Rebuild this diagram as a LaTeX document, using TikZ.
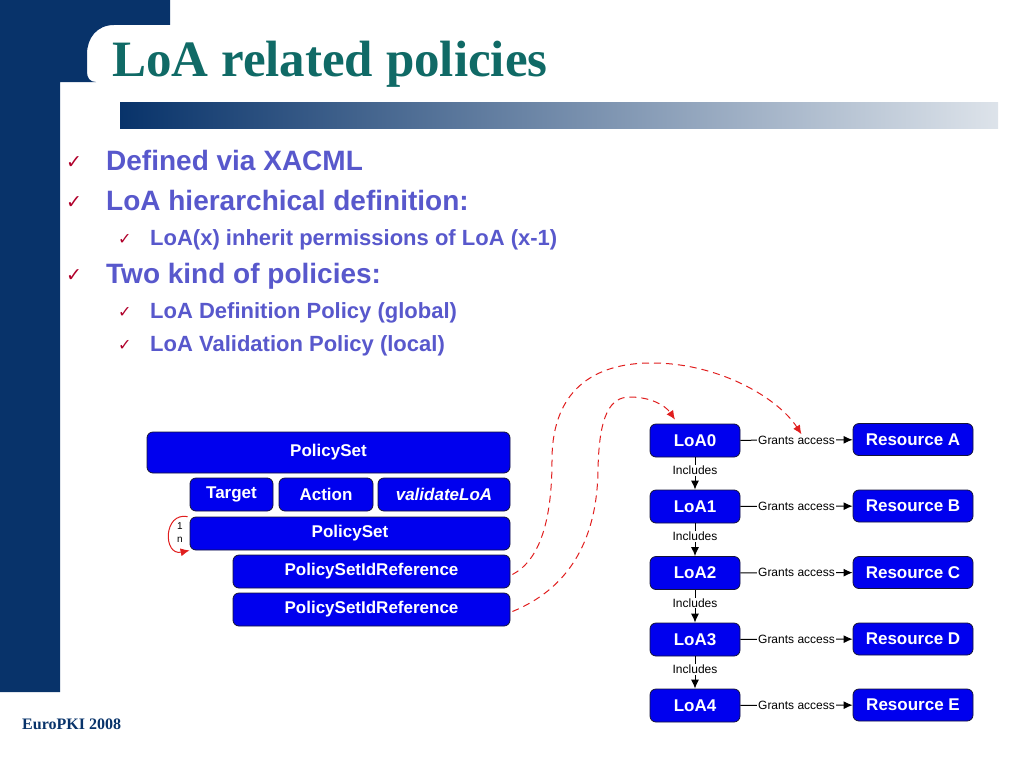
\documentclass[tikz,border=0pt]{standalone}
\usepackage{fontspec}
\setmainfont{Liberation Sans}
\newfontfamily\titlefont{Liberation Serif}
\newfontfamily\checkfont{DejaVu Sans}
\usepackage{xcolor}
\usepackage{tikz}
\usetikzlibrary{arrows.meta, positioning, calc}
\definecolor{SlideNavy}{HTML}{08336A}
\definecolor{TitleTeal}{HTML}{106A66}
\definecolor{BarGrey}{HTML}{DDE3EA}
\definecolor{BulletBlue}{HTML}{5858CC}
\definecolor{CheckRed}{HTML}{B0002A}
\definecolor{BoxBlue}{HTML}{0000EE}
\definecolor{BoxEdge}{HTML}{141438}
\definecolor{LinkRed}{HTML}{E01E1E}

\begin{document}
\begin{tikzpicture}[x=1pt, y=-1pt, >={Latex[length=9pt,width=8pt]},
    box/.style={rectangle, rounded corners=6pt, draw=BoxEdge, line width=0.8pt, fill=BoxBlue,
        text=white, inner sep=0pt, font=\bfseries\fontsize{17}{20}\selectfont},
    lbl/.style={fill=white, inner sep=1pt, font=\fontsize{12}{14}\selectfont},
    rel/.style={line width=1pt, ->},
    link/.style={LinkRed, line width=1pt, dash pattern=on 7pt off 5pt, ->},
    lvlone/.style={anchor=base west, inner sep=0pt, text=BulletBlue, font=\bfseries\fontsize{28}{32}\selectfont},
    lvltwo/.style={anchor=base west, inner sep=0pt, text=BulletBlue, font=\bfseries\fontsize{22}{26}\selectfont},
    tick/.style={anchor=base west, inner sep=0pt, text=CheckRed, font=\checkfont\fontsize{19}{22}\selectfont},
    subtick/.style={tick, font=\checkfont\fontsize{16}{18}\selectfont}]
    \useasboundingbox (0,0) rectangle (1024,768);

    % slide frame
    \fill [SlideNavy] (0,0) -- (170,0) -- (170,25) -- (114,25)
        .. controls (97,25) and (87,38) .. (87,54) -- (87,72)
        .. controls (87,78) and (90,82) .. (96,82) -- (60,82) -- (60,692) -- (0,692) -- cycle;
    \shade [left color=SlideNavy, right color=BarGrey] (120,102) rectangle (998,128);
    \node [anchor=base west, inner sep=0pt, text=TitleTeal, font=\titlefont\bfseries\fontsize{51}{56}\selectfont]
        (title) at (112,76) {LoA related policies};
    \node [anchor=base west, inner sep=0pt, text=SlideNavy, font=\titlefont\bfseries\fontsize{16}{18}\selectfont]
        (footer) at (22,729) {EuroPKI 2008};

    % bullets
    \node [tick] (t1) at (66,168) {✓};
    \node [lvlone] (b1) at (106,170) {Defined via XACML};
    \node [tick] (t2) at (66,208) {✓};
    \node [lvlone] (b2) at (106,210) {LoA hierarchical definition:};
    \node [subtick] (t3) at (118,244) {✓};
    \node [lvltwo] (b3) at (150,245) {LoA(x) inherit permissions of LoA (x-1)};
    \node [tick] (t4) at (66,281) {✓};
    \node [lvlone] (b4) at (106,283) {Two kind of policies:};
    \node [subtick] (t5) at (118,317) {✓};
    \node [lvltwo] (b5) at (150,318) {LoA Definition Policy (global)};
    \node [subtick] (t6) at (118,350) {✓};
    \node [lvltwo] (b6) at (150,351) {LoA Validation Policy (local)};

    % validation policy
    \node [box, minimum width=363pt, minimum height=41pt] (ps) at (328.5,452.5) {PolicySet};
    \node [box, minimum width=83pt, minimum height=33pt] (target) at (231.5,494.5) {Target};
    \node [box, minimum width=94pt, minimum height=33pt] (action) at (326,494.5) {Action};
    \node [box, minimum width=132pt, minimum height=33pt] (validate) at (444,494.5) {\itshape validateLoA};
    \node [box, minimum width=320pt, minimum height=33pt] (inner) at (350,533.5) {PolicySet};
    \node [box, minimum width=277pt, minimum height=33pt] (refone) at (371.5,571.5) {PolicySetIdReference};
    \node [box, minimum width=277pt, minimum height=33pt] (reftwo) at (371.5,609.5) {PolicySetIdReference};
    \draw [LinkRed, line width=1pt, ->] ([xshift=-2pt]inner.north west) .. controls (163,512) and (163,556) .. (inner.south west);
    \node [font=\fontsize{10}{12}\selectfont, inner sep=0pt] (one) at (180,526) {1};
    \node [font=\fontsize{10}{12}\selectfont, inner sep=0pt] (many) at (180,540) {n};

    % definition policy
    \node [box, minimum width=90pt, minimum height=33pt] (loa0) at (695,440.5) {LoA0};
    \node [box, minimum width=90pt, minimum height=33pt] (loa1) at (695,506.5) {LoA1};
    \node [box, minimum width=90pt, minimum height=33pt] (loa2) at (695,573) {LoA2};
    \node [box, minimum width=90pt, minimum height=33pt] (loa3) at (695,639.5) {LoA3};
    \node [box, minimum width=90pt, minimum height=33pt] (loa4) at (695,705.5) {LoA4};
    \node [box, minimum width=120pt, minimum height=32pt] (resA) at (913,439.5) {Resource A};
    \node [box, minimum width=120pt, minimum height=32pt] (resB) at (913,506) {Resource B};
    \node [box, minimum width=120pt, minimum height=32pt] (resC) at (913,572.5) {Resource C};
    \node [box, minimum width=120pt, minimum height=32pt] (resD) at (913,639) {Resource D};
    \node [box, minimum width=120pt, minimum height=32pt] (resE) at (913,705) {Resource E};

    \draw [rel] (loa0) -- node [lbl] (grantA) {Grants access} (resA);
    \draw [rel] (loa1) -- node [lbl] (grantB) {Grants access} (resB);
    \draw [rel] (loa2) -- node [lbl] (grantC) {Grants access} (resC);
    \draw [rel] (loa3) -- node [lbl] (grantD) {Grants access} (resD);
    \draw [rel] (loa4) -- node [lbl] (grantE) {Grants access} (resE);
    \draw [rel] (loa0) -- node [lbl, pos=0.4] {Includes} (loa1);
    \draw [rel] (loa1) -- node [lbl, pos=0.4] {Includes} (loa2);
    \draw [rel] (loa2) -- node [lbl, pos=0.4] {Includes} (loa3);
    \draw [rel] (loa3) -- node [lbl, pos=0.4] {Includes} (loa4);

    % references into the definition policy
    \draw [link] ([xshift=2pt,yshift=-3pt]refone.east) .. controls (540,560) and (552,520) .. (552,460)
        .. controls (552,385) and (600,362) .. (655,363)
        .. controls (720,364) and (778,398) .. ([xshift=5pt]grantA.north);
    \draw [link] ([xshift=2pt,yshift=-2pt]reftwo.east) .. controls (565,590) and (597,545) .. (598,470)
        .. controls (599,415) and (610,397) .. (630,397)
        .. controls (650,397) and (665,405) .. ([xshift=-20pt,yshift=4pt]loa0.north);
\end{tikzpicture}
\end{document}
